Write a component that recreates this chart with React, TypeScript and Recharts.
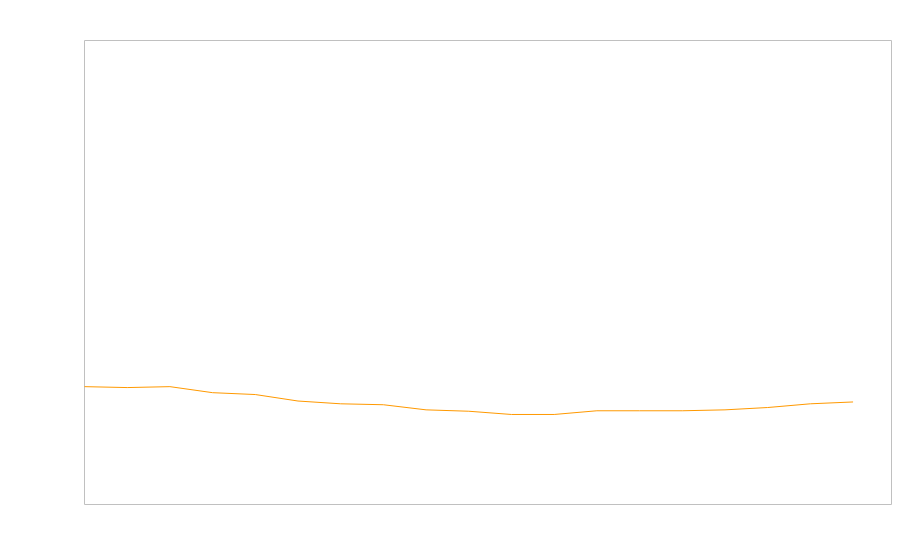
import { LineChart, Line, XAxis, YAxis, ReferenceArea } from 'recharts';

const INDEX = [0, 1, 2, 3, 4, 5, 6, 7, 8, 9, 10, 11, 12, 13, 14, 15, 16, 17, 18];
const VALUES = [25.4, 25.2, 25.4, 24.1, 23.7, 22.3, 21.7, 21.5, 20.4, 20.1, 19.4, 19.4, 20.2, 20.2, 20.2, 20.4, 20.9, 21.7, 22.1];
const X_DOMAIN: [number, number] = [0, 18.9];
const Y_DOMAIN: [number, number] = [0, 100];

const data = INDEX.map((x, i) => ({ x, value: VALUES[i] }));

export default function App() {
  return (
    <div style={{ width: 891, height: 544, transform: 'translate(0.5px, 0.5px)' }}>
      <LineChart width={891} height={544} data={data} margin={{ top: 32, right: 8, bottom: 48, left: 76 }}>
        <XAxis dataKey="x" type="number" domain={X_DOMAIN} hide />
        <YAxis type="number" domain={Y_DOMAIN} hide />
        <ReferenceArea
          x1={X_DOMAIN[0]} x2={X_DOMAIN[1]} y1={Y_DOMAIN[0]} y2={Y_DOMAIN[1]}
          fill="none" stroke="#c0c0c0" strokeWidth={1} ifOverflow="visible"
        />
        <Line type="linear" dataKey="value" stroke="#ff9900" strokeWidth={1} dot={false} isAnimationActive={false} />
      </LineChart>
    </div>
  );
}
